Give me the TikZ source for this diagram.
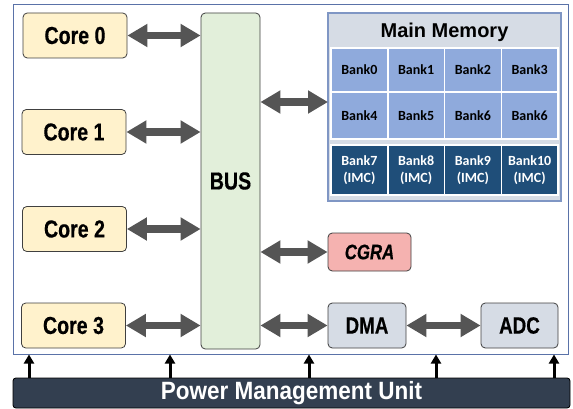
\documentclass[tikz,border=0pt]{standalone}
\usepackage{fontspec}
\setmainfont{Liberation Sans}
\newfontfamily\narrowfont[FakeStretch=0.8, FakeBold=0.5]{Liberation Sans}
\newfontfamily\pmufont[FakeStretch=0.9]{Liberation Sans}
\newfontfamily\bankfont{Carlito}
\usetikzlibrary{positioning, arrows.meta, calc}

\definecolor{corefill}{HTML}{FFF2CC}
\definecolor{busfill}{HTML}{E2EFDA}
\definecolor{memfill}{HTML}{D6DCE5}
\definecolor{memdraw}{HTML}{7F96C4}
\definecolor{bankfill}{HTML}{8FAADC}
\definecolor{imcfill}{HTML}{1F4E79}
\definecolor{cgrafill}{HTML}{F5B2B0}
\definecolor{periphfill}{HTML}{D6DCE5}
\definecolor{pmufill}{HTML}{333F50}
\definecolor{framedraw}{HTML}{5A72A8}
\definecolor{arrowgray}{HTML}{555555}

\begin{document}
\begin{tikzpicture}[x=1pt, y=-1pt,
  chipbox/.style={draw=framedraw, line width=1pt, minimum width=555pt, minimum height=349pt, inner sep=0pt},
  core/.style={draw=black!75, rounded corners=1.5mm, fill=corefill, line width=0.8pt,
               minimum width=104pt, minimum height=45pt, inner sep=0pt,
               font=\narrowfont\bfseries\fontsize{24.5}{28}\selectfont},
  busbox/.style={draw=black!75, rounded corners=1.5mm, fill=busfill, line width=0.8pt,
                 minimum width=59pt, minimum height=336pt, inner sep=0pt,
                 font=\narrowfont\bfseries\fontsize{24.5}{28}\selectfont},
  membox/.style={draw=memdraw, fill=memfill, line width=1.2pt,
                 minimum width=233pt, minimum height=188pt, inner sep=0pt},
  bank/.style={draw=white, line width=1.5pt, fill=bankfill, minimum width=56.75pt, inner sep=0pt,
               font=\bankfont\bfseries\fontsize{14}{17.5}\selectfont, align=center},
  imc/.style={bank, fill=imcfill, text=white},
  periph/.style={draw=black!75, rounded corners=1.5mm, fill=periphfill, line width=0.8pt,
                 minimum height=45pt, inner sep=0pt,
                 font=\narrowfont\bfseries\fontsize{23.5}{27}\selectfont},
  cgrabox/.style={draw=black!75, rounded corners=1.5mm, fill=cgrafill, line width=0.8pt,
                  minimum width=83pt, minimum height=38pt, inner sep=0pt,
                  font=\narrowfont\bfseries\itshape\fontsize{21}{25}\selectfont},
  pmubox/.style={draw=black, rounded corners=1mm, fill=pmufill, line width=0.8pt, text=white,
                 minimum width=557pt, minimum height=30pt, inner sep=0pt,
                 font=\pmufont\bfseries\fontsize{25}{28}\selectfont},
  dbl/.style={{Triangle[length=20pt 0 0,width=22pt 0 0]}-{Triangle[length=20pt 0 0,width=22pt 0 0]},
              line width=7.5pt, color=arrowgray},
  pwr/.style={-{Triangle[length=9pt 0 0,width=10pt 0 0]}, line width=3pt, color=black},
]
\useasboundingbox (0,0) rectangle (573,409);

% chip outline
\node[chipbox] (chip) at (290.5,179.5) {};

% cores
\node[core] (core0) at (75,35.5) {Core 0};
\node[core] (core1) at (74,132) {Core 1};
\node[core] (core2) at (74.5,229) {Core 2};
\node[core] (core3) at (73.5,325.5) {Core 3};

% shared bus
\node[busbox] (bus) at (230.5,181) {BUS};

% main memory with banks
\node[membox] (mem) at (444.5,107) {};
\node[font=\bfseries\fontsize{20}{22}\selectfont] (memlbl) at (444.5,32) {Main Memory};
\foreach \col/\lab in {0/Bank0, 1/Bank1, 2/Bank2, 3/Bank3}
  \node[bank, minimum height=44pt] (bankA\col) at ({359.4+56.75*\col},70) {\lab};
\foreach \col/\lab in {0/Bank4, 1/Bank5, 2/Bank6, 3/Bank6}
  \node[bank, minimum height=47pt] (bankB\col) at ({359.4+56.75*\col},115.5) {\lab};
\foreach \col/\lab in {0/Bank7, 1/Bank8, 2/Bank9, 3/Bank10}
  \node[imc, minimum height=50pt] (bankC\col) at ({359.4+56.75*\col},170) {\lab\\(IMC)};

% accelerator and peripherals
\node[cgrabox] (cgra) at (369.5,252) {CGRA};
\node[periph, minimum width=78pt] (dma) at (367,325.5) {DMA};
\node[periph, minimum width=77pt] (adc) at (519.5,325.5) {ADC};

% power management
\node[pmubox] (pmu) at (291.5,393) {Power Management Unit};

% bus links
\foreach \c in {core0, core1, core2, core3}
  \draw[dbl] (\c.east) -- (\c.east -| bus.west);
\coordinate (memin) at (328,102);
\draw[dbl] (memin -| bus.east) -- (memin);
\draw[dbl] (cgra.west -| bus.east) -- (cgra.west);
\draw[dbl] (dma.west -| bus.east) -- (dma.west);
\draw[dbl] (dma) -- (adc);

% power arrows
\foreach \px in {29, 170, 309, 436, 554}
  \draw[pwr] (pmu.north -| \px,0) -- (chip.south -| \px,0);

\end{tikzpicture}
\end{document}
